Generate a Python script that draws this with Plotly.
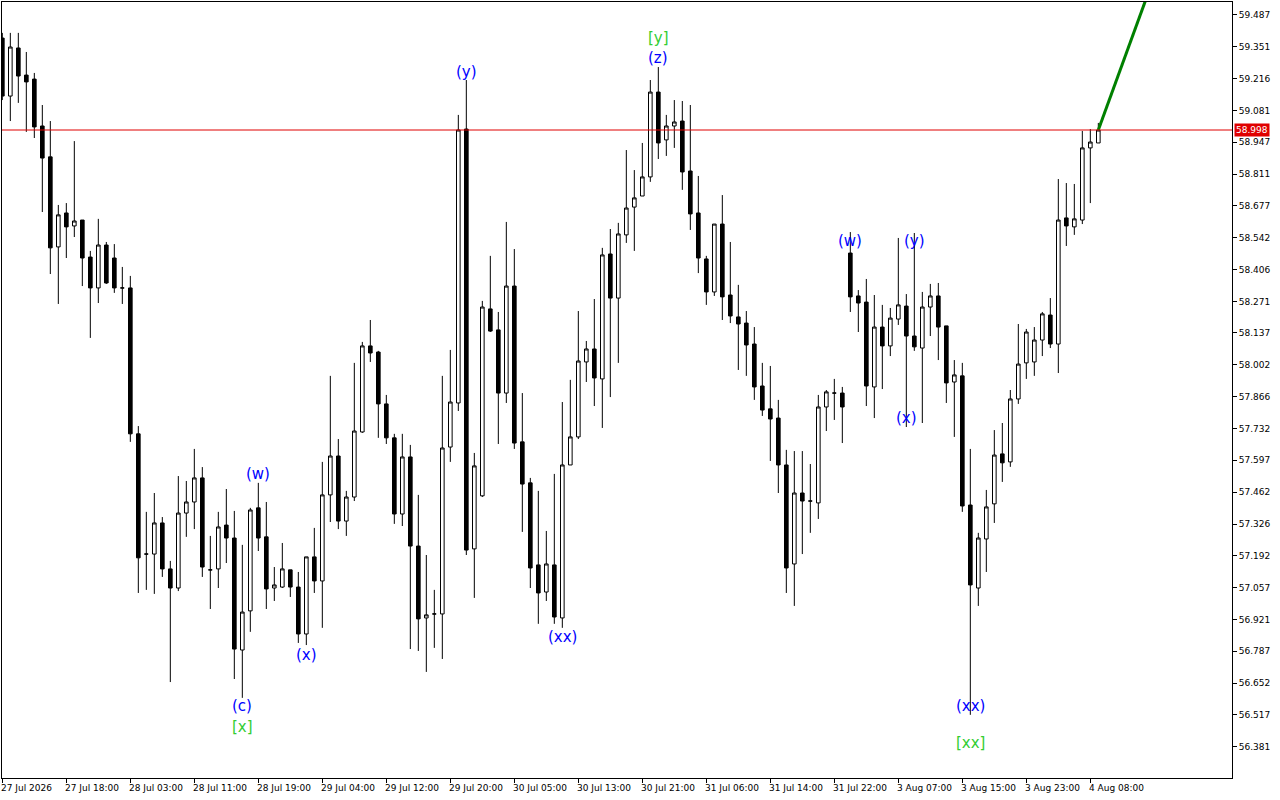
import plotly.graph_objects as go

# ---- data (hourly bars, index = bar number) ----
opens = [59.388,59.142,59.346,59.231,59.214,59.015,58.884,58.502,58.646,58.591,
         58.616,58.459,58.328,58.510,58.455,58.328,58.328,57.709,57.199,57.199,
         57.331,57.136,57.055,57.373,57.420,57.522,57.132,57.136,57.322,57.267,
         56.792,56.958,57.395,57.272,57.055,57.059,57.132,57.059,56.860,57.187,
         57.085,57.450,57.615,57.339,57.441,57.717,58.082,58.056,57.836,57.692,
         57.369,57.611,57.233,56.928,56.945,56.945,57.653,57.840,59.002,57.221,
         57.446,58.239,58.150,57.882,58.336,57.675,57.501,57.153,57.038,57.153,
         56.928,57.577,57.696,58.014,58.069,57.942,58.472,58.285,58.553,58.671,
         58.718,58.799,59.159,58.956,59.015,59.036,58.824,58.646,58.451,58.311,
         58.599,58.298,58.205,58.179,58.090,57.912,57.815,57.776,57.577,57.157,
         57.458,57.424,57.416,57.823,57.882,57.882,58.476,58.294,58.268,57.908,
         58.162,58.082,58.196,58.251,58.124,58.073,58.247,58.294,58.167,57.929,
         57.955,57.407,57.055,57.263,57.412,57.624,57.590,57.857,58.010,58.014,
         58.107,58.213,58.090,58.625,58.587,58.616,58.922,58.943]
highs = [59.410,59.410,59.410,59.329,59.240,59.104,59.036,58.680,58.688,58.951,
         58.616,58.485,58.621,58.523,58.514,58.417,58.379,57.742,57.378,57.458,
         57.356,57.170,57.530,57.509,57.645,57.568,57.276,57.378,57.475,57.382,
         57.238,57.395,57.501,57.420,57.144,57.246,57.132,57.123,57.187,57.310,
         57.590,57.955,57.687,57.467,58.010,58.099,58.192,58.061,57.874,57.709,
         57.709,57.662,57.450,57.195,57.047,57.955,58.065,59.062,59.210,57.628,
         58.273,58.464,58.226,58.608,58.493,57.882,57.522,57.467,57.297,57.539,
         57.844,57.938,58.230,58.103,58.281,58.498,58.578,58.604,58.913,58.828,
         58.943,59.210,59.265,59.062,59.125,59.121,59.104,58.803,58.464,58.599,
         58.722,58.523,58.341,58.230,58.162,58.010,57.997,57.853,57.641,57.636,
         57.636,57.581,57.874,57.895,57.942,57.908,58.565,58.319,58.366,58.298,
         58.256,58.243,58.540,58.302,58.561,58.311,58.345,58.349,58.167,58.022,
         58.010,57.645,57.289,57.471,57.725,57.755,57.895,58.175,58.154,58.162,
         58.226,58.285,58.790,58.773,58.769,58.994,59.002,59.028]
lows = [59.125,59.036,59.113,58.990,58.964,58.650,58.387,58.260,58.455,58.544,
        58.336,58.116,58.264,58.345,58.307,58.260,57.675,57.034,57.047,57.030,
        57.102,56.656,57.042,57.272,57.305,57.102,56.966,57.055,57.161,56.669,
        56.589,56.869,57.212,56.966,57.000,57.055,57.017,56.822,56.813,57.034,
        56.886,57.335,57.305,57.276,57.424,57.713,58.014,57.692,57.666,57.327,
        57.318,56.796,56.788,56.699,56.801,56.754,57.590,57.806,57.195,57.013,
        57.441,58.141,57.666,57.840,57.645,57.293,57.055,56.903,57.000,56.903,
        56.886,57.577,57.687,57.929,57.827,57.734,57.865,58.010,58.519,58.485,
        58.718,58.778,58.875,58.888,58.922,58.744,58.574,58.391,58.256,58.294,
        58.192,58.179,57.980,57.955,57.853,57.785,57.594,57.458,57.034,56.979,
        57.199,57.289,57.348,57.721,57.768,57.670,58.226,58.141,57.827,57.776,
        57.899,58.039,58.171,57.738,58.061,57.755,58.124,58.022,57.840,57.696,
        57.378,56.517,56.979,57.123,57.331,57.505,57.569,57.836,57.942,57.955,
        58.039,58.073,57.967,58.506,58.553,58.599,58.688,58.943]
closes = [59.142,59.350,59.227,59.202,59.011,58.879,58.498,58.638,58.587,58.612,
          58.455,58.328,58.510,58.349,58.328,58.328,57.709,57.183,57.199,57.331,
          57.136,57.055,57.373,57.420,57.522,57.144,57.132,57.314,57.267,56.796,
          56.953,57.386,57.267,57.051,57.068,57.136,57.059,56.860,57.187,57.085,
          57.450,57.615,57.339,57.441,57.721,58.082,58.052,57.836,57.692,57.369,
          57.611,57.233,56.924,56.941,56.945,57.649,57.844,58.998,57.216,57.573,
          58.247,58.145,57.882,58.336,57.670,57.496,57.140,57.034,57.157,56.932,
          57.577,57.696,58.018,58.069,57.946,58.468,58.285,58.557,58.667,58.710,
          58.799,59.159,58.943,59.015,59.032,58.820,58.642,58.455,58.311,58.599,
          58.290,58.209,58.175,58.086,57.908,57.810,57.772,57.577,57.140,57.458,
          57.424,57.424,57.823,57.887,57.882,57.823,58.290,58.264,57.912,58.162,
          58.082,58.200,58.256,58.124,58.078,58.247,58.294,58.162,57.925,57.959,
          57.403,57.068,57.267,57.399,57.619,57.586,57.857,58.005,58.141,58.107,
          58.218,58.090,58.616,58.591,58.621,58.922,58.947,58.998]
bar_index = list(range(len(opens)))

time_labels = ["27 Jul 2026", "27 Jul 18:00", "28 Jul 03:00", "28 Jul 11:00",
               "28 Jul 19:00", "29 Jul 04:00", "29 Jul 12:00", "29 Jul 20:00",
               "30 Jul 05:00", "30 Jul 13:00", "30 Jul 21:00", "31 Jul 06:00",
               "31 Jul 14:00", "31 Jul 22:00", "3 Aug 07:00", "3 Aug 15:00",
               "3 Aug 23:00", "4 Aug 08:00"]
time_label_index = [0, 8, 16, 24, 32, 40, 48, 56, 64, 72, 80, 88, 96, 104, 112, 120, 128, 136]

price_ticks = [59.487, 59.351, 59.216, 59.081, 58.947, 58.811, 58.677, 58.542,
               58.406, 58.271, 58.137, 58.002, 57.866, 57.732, 57.597, 57.462,
               57.326, 57.192, 57.057, 56.921, 56.787, 56.652, 56.517, 56.381]

current_price = 58.998
projection_x = [137, 145]
projection_y = [58.998, 59.743]

wave_text = ["(w)", "(x)", "(c)", "[x]", "(y)", "(xx)", "(z)", "[y]",
             "(w)", "(y)", "(x)", "(xx)", "[xx]"]
wave_bar = [32, 38, 30, 30, 58, 70, 82, 82, 106, 114, 113, 121, 121]
wave_price = [57.539, 56.771, 56.555, 56.466, 59.244, 56.847, 59.303, 59.388,
              58.527, 58.527, 57.776, 56.555, 56.398]
wave_color = ["blue", "blue", "blue", "green", "blue", "blue", "blue", "green",
              "blue", "blue", "blue", "blue", "green"]

COLORS = {"blue": "#0000FF", "green": "#32CD32"}

fig = go.Figure()
fig.add_trace(go.Candlestick(
    x=bar_index, open=opens, high=highs, low=lows, close=closes,
    increasing=dict(line=dict(color="black", width=1), fillcolor="white"),
    decreasing=dict(line=dict(color="black", width=1), fillcolor="black"),
    whiskerwidth=0, showlegend=False, hoverinfo="skip"))

fig.add_trace(go.Scatter(x=projection_x, y=projection_y, mode="lines",
                         line=dict(color="#008000", width=3),
                         showlegend=False, hoverinfo="skip", cliponaxis=True))

fig.add_hline(y=current_price, line=dict(color="#E00000", width=1))

for t, b, p, c in zip(wave_text, wave_bar, wave_price, wave_color):
    fig.add_annotation(x=b, y=p, text=t, showarrow=False,
                       font=dict(family="DejaVu Sans", size=15, color=COLORS[c]),
                       xanchor="center", yanchor="middle")

for lab, idx in zip(time_labels, time_label_index):
    fig.add_annotation(x=idx, y=0, xref="x", yref="paper", yanchor="top",
                       xanchor="left", xshift=-3, yshift=-3, text=lab, showarrow=False,
                       font=dict(family="DejaVu Sans", size=9, color="black"))

fig.add_annotation(x=1, xref="paper", y=current_price, yref="y",
                   xanchor="left", yanchor="middle", xshift=2,
                   text=f"{current_price:.3f}", showarrow=False,
                   bgcolor="#E00000", borderpad=1,
                   font=dict(family="DejaVu Sans", size=9, color="white"))

fig.update_layout(
    width=1280, height=800,
    margin=dict(l=2, r=48, t=2, b=22),
    paper_bgcolor="white", plot_bgcolor="white",
    boxgap=0.35,
    showlegend=False,
    xaxis=dict(range=[-0.04, 153.71], rangeslider=dict(visible=False),
               showgrid=False, zeroline=False, showline=True, mirror=True,
               linecolor="black", linewidth=1,
               tickvals=time_label_index, ticks="outside", ticklen=4,
               tickcolor="black", showticklabels=False),
    yaxis=dict(range=[56.249, 59.541], side="right", showgrid=False,
               zeroline=False, showline=True, mirror=True, linecolor="black",
               linewidth=1, tickvals=price_ticks,
               ticktext=[f"{v:.3f}" for v in price_ticks],
               ticks="outside", ticklen=4, tickcolor="black",
               tickfont=dict(family="DejaVu Sans", size=9, color="black")),
)

fig.write_html("out.html", config={"displayModeBar": False},
               post_script="document.body.style.margin='0';document.body.style.padding='0';")
